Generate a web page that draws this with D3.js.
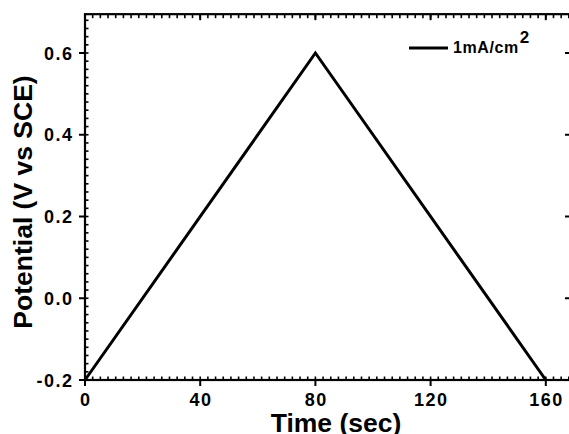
<!DOCTYPE html>
<html lang="en">
<head>
<meta charset="UTF-8" />
<title>Potential vs Time</title>
<script src="https://cdnjs.cloudflare.com/ajax/libs/d3/7.8.2/d3.min.js"></script>
<style>
  body { margin: 0; padding: 0; background: #fff; }
  svg { display: block; font-family: "Liberation Sans", Arial, sans-serif; }
  .tick-label { font-size: 18px; font-weight: bold; fill: #000; letter-spacing: 1.5px; }
  .title { font-size: 26.5px; font-weight: bold; fill: #000; }
  .legend { font-size: 16px; font-weight: bold; fill: #000; letter-spacing: 0.6px; }
</style>
</head>
<body>
<svg id="chart"></svg>
<script>
// data
const timeSec = [0, 80, 160];
const potential = [-0.2, 0.6, -0.2];
const xTicks = [0, 40, 80, 120, 160];
const yTicks = [-0.2, 0.0, 0.2, 0.4, 0.6];
const legendLabel = "1mA/cm";

const width = 569, height = 434;
const svg = d3.select("#chart").attr("width", width).attr("height", height);

// plot frame (right edge sits just past the window)
const plotLeft = 85, plotRight = 571, plotBottom = 380;
const x = d3.scaleLinear().domain([0, 168.75]).range([plotLeft, plotRight]);
const y = d3.scaleLinear().domain([-0.2, 0.6]).range([plotBottom, 53]);
const plotTop = y(0.695);

// minor ticks
const xMinor = d3.range(0, 168.75, 40 / 15);
const yMinor = d3.range(-0.2, 0.7, 0.02);

const g = svg.append("g");

// bottom axis: majors outward, minors inward
g.selectAll("line.xmin").data(xMinor).enter().append("line")
  .attr("x1", d => x(d)).attr("x2", d => x(d))
  .attr("y1", plotBottom).attr("y2", plotBottom - 3.5)
  .attr("stroke", "#000").attr("stroke-width", 1.6);
g.selectAll("line.xmaj").data(xTicks).enter().append("line")
  .attr("x1", d => x(d)).attr("x2", d => x(d))
  .attr("y1", plotBottom).attr("y2", plotBottom + 6)
  .attr("stroke", "#000").attr("stroke-width", 2);
// top axis: everything inward
g.selectAll("line.txmin").data(xMinor).enter().append("line")
  .attr("x1", d => x(d)).attr("x2", d => x(d))
  .attr("y1", plotTop).attr("y2", plotTop + 4)
  .attr("stroke", "#000").attr("stroke-width", 1.6);
g.selectAll("line.txmaj").data(xTicks).enter().append("line")
  .attr("x1", d => x(d)).attr("x2", d => x(d))
  .attr("y1", plotTop).attr("y2", plotTop + 6)
  .attr("stroke", "#000").attr("stroke-width", 2);

// left axis
g.selectAll("line.ymin").data(yMinor).enter().append("line")
  .attr("x1", plotLeft).attr("x2", plotLeft + 3.5)
  .attr("y1", d => y(d)).attr("y2", d => y(d))
  .attr("stroke", "#000").attr("stroke-width", 1.6);
g.selectAll("line.ymaj").data(yTicks).enter().append("line")
  .attr("x1", plotLeft - 6).attr("x2", plotLeft)
  .attr("y1", d => y(d)).attr("y2", d => y(d))
  .attr("stroke", "#000").attr("stroke-width", 2);
// right axis (inward)
g.selectAll("line.rymaj").data(yTicks).enter().append("line")
  .attr("x1", plotRight).attr("x2", plotRight - 6)
  .attr("y1", d => y(d)).attr("y2", d => y(d))
  .attr("stroke", "#000").attr("stroke-width", 2);

// frame
svg.append("rect")
  .attr("x", plotLeft).attr("y", plotTop)
  .attr("width", plotRight - plotLeft).attr("height", plotBottom - plotTop)
  .attr("fill", "none").attr("stroke", "#000").attr("stroke-width", 2.2);

// tick labels
svg.selectAll("text.xl").data(xTicks).enter().append("text")
  .attr("class", "tick-label")
  .attr("x", d => x(d) + 0.75).attr("y", 406)
  .attr("text-anchor", "middle")
  .text(d => d);
svg.selectAll("text.yl").data(yTicks).enter().append("text")
  .attr("class", "tick-label")
  .attr("x", 73.5).attr("y", d => y(d) + 6.5)
  .attr("text-anchor", "end")
  .text(d => d3.format(".1f")(d).replace("−", "-"));

// series
const pts = timeSec.map((t, i) => [t, potential[i]]);
svg.append("path")
  .datum(pts)
  .attr("fill", "none")
  .attr("stroke", "#000")
  .attr("stroke-width", 3)
  .attr("stroke-linejoin", "miter")
  .attr("d", d3.line().x(d => x(d[0])).y(d => y(d[1])));

// axis titles
svg.append("text").attr("class", "title")
  .attr("x", 336).attr("y", 432)
  .attr("text-anchor", "middle")
  .text("Time (sec)");
svg.append("text").attr("class", "title")
  .attr("transform", "translate(31.5,202) rotate(-90)")
  .attr("text-anchor", "middle")
  .text("Potential (V vs SCE)");

// legend
svg.append("line")
  .attr("x1", 409).attr("x2", 448).attr("y1", 48).attr("y2", 48)
  .attr("stroke", "#000").attr("stroke-width", 3);
const leg = svg.append("text").attr("class", "legend")
  .attr("x", 453).attr("y", 53);
leg.append("tspan").text(legendLabel);
leg.append("tspan").attr("dx", 1).attr("dy", -10).style("font-size", "17px").text("2");
</script>
</body>
</html>
